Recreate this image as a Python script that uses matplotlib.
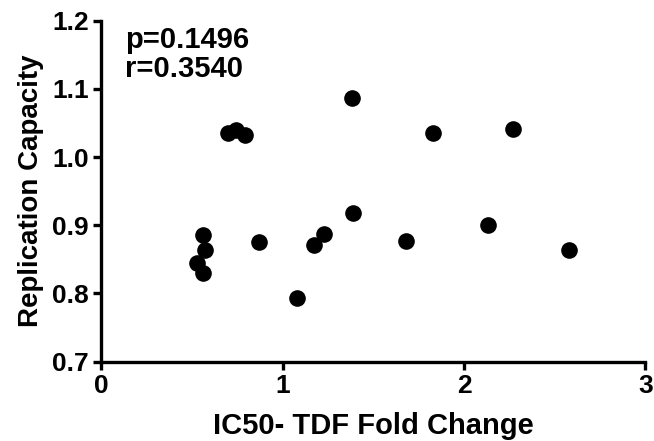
import numpy as np
import matplotlib.pyplot as plt

plt.rcParams['font.family'] = ['Liberation Sans', 'DejaVu Sans']
plt.rcParams['font.weight'] = 'bold'

# IC50 fold change vs replication capacity
fold_change = [0.53, 0.56, 0.56, 0.57, 0.87, 1.08, 1.17, 1.23, 0.70, 0.74,
               0.79, 1.38, 1.83, 2.27, 1.39, 1.68, 2.13, 2.58]
rep_capacity = [0.845, 0.830, 0.886, 0.863, 0.875, 0.794, 0.871, 0.887, 1.035, 1.040,
                1.033, 1.086, 1.036, 1.041, 0.918, 0.877, 0.900, 0.864]
x_ticks = [0, 1, 2, 3]
y_ticks = [0.7, 0.8, 0.9, 1.0, 1.1, 1.2]
stats_text = "p=0.1496\nr=0.3540"

fig = plt.figure(figsize=(6.54, 4.41), dpi=100)
ax = fig.add_axes([0.155, 0.18, 0.832, 0.773])
ax.scatter(fold_change, rep_capacity, s=120, color='black', zorder=3, clip_on=False)

ax.set_xlim(0, 3)
ax.set_ylim(0.7, 1.2)
ax.set_xticks(x_ticks)
ax.set_yticks(y_ticks)
ax.set_xticklabels([str(t) for t in x_ticks])
ax.set_yticklabels(['%.1f' % t for t in y_ticks])

for side in ['top', 'right']:
    ax.spines[side].set_visible(False)
for side in ['left', 'bottom']:
    ax.spines[side].set_linewidth(2.4)
ax.tick_params(width=2.4, length=6, labelsize=19, pad=3)

ax.set_xlabel('IC50- TDF Fold Change', fontsize=21, fontweight='bold', labelpad=10)
ax.set_ylabel('Replication Capacity', fontsize=20, fontweight='bold', labelpad=6)
ax.text(0.043, 0.985, stats_text, transform=ax.transAxes, fontsize=21,
        fontweight='bold', va='top', ha='left', linespacing=1.05)

fig.savefig('out.png', dpi=100)
